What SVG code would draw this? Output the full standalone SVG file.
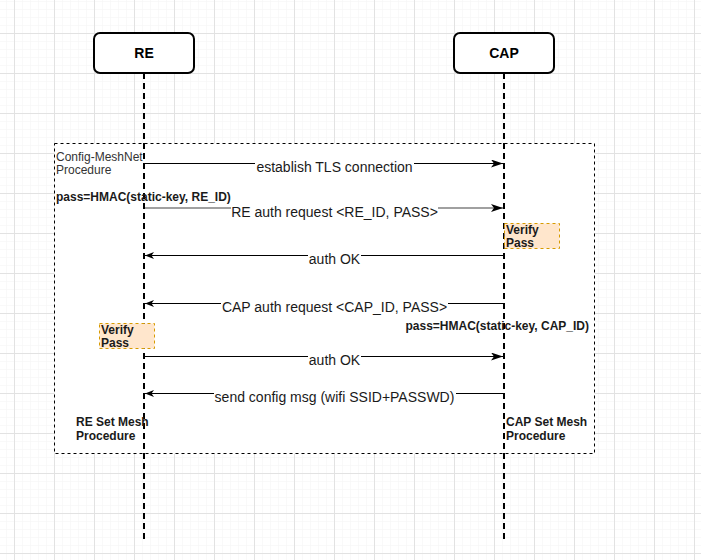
<svg xmlns="http://www.w3.org/2000/svg" width="701" height="560" viewBox="0 0 701 560">
<style>
.lbl{font-family:"Liberation Sans",Arial,sans-serif;font-size:14px;fill:#1a1a1a;text-anchor:middle}
.bold{font-family:"Liberation Sans",Arial,sans-serif;font-size:12px;font-weight:bold;fill:#1a1a1a}
.small{font-family:"Liberation Sans",Arial,sans-serif;font-size:12px;fill:#333}
.actor{fill:#fff;stroke:#000;stroke-width:2}
.actxt{font-family:"Liberation Sans",Arial,sans-serif;font-size:14px;font-weight:bold;fill:#000;text-anchor:middle}
.life{stroke:#000;stroke-width:2;stroke-dasharray:6 4;fill:none}
.msg{stroke:#000;stroke-width:1;fill:none}
.bg{fill:#fff}
.verify{fill:#ffe6cc;stroke:#d79b00;stroke-width:1;stroke-dasharray:3 3}
</style>
<defs>
<pattern id="minor" width="8" height="8" x="14" y="33" patternUnits="userSpaceOnUse">
<path d="M0 0V8M0 0H8" stroke="#f4f4f4" stroke-width="1" fill="none"/>
</pattern>
<pattern id="major" width="40" height="40" x="14" y="33" patternUnits="userSpaceOnUse">
<path d="M0.5 0V40M0 0.5H40" stroke="#e2e2e2" stroke-width="1" fill="none"/>
</pattern>
<marker id="ah" markerWidth="12" markerHeight="8" refX="12" refY="4" orient="auto" markerUnits="userSpaceOnUse">
<path d="M0 0L12 4L0 8L3 4Z" fill="#000"/>
</marker>
<marker id="ahs" markerWidth="9" markerHeight="7" refX="9" refY="3.5" orient="auto" markerUnits="userSpaceOnUse">
<path d="M0 0L9 3.5L0 7L2.5 3.5Z" fill="#000"/>
</marker>
</defs>
<rect width="701" height="560" fill="#fff"/>
<rect width="701" height="560" fill="url(#minor)"/>
<rect width="701" height="560" fill="url(#major)"/>

<g id="frame">
<rect x="54.5" y="143.5" width="540" height="310" fill="#fff" stroke="#000" stroke-width="1" stroke-dasharray="3 3"/>
<text class="small" x="56" y="161">Config-MeshNet</text>
<text class="small" x="56" y="174">Procedure</text>
</g>

<g id="lifelines">
<line class="life" x1="144" y1="73" x2="144" y2="543"/>
<line class="life" x1="504" y1="73" x2="504" y2="543"/>
</g>

<g id="RE">
<rect class="actor" x="94" y="33" width="100" height="40" rx="6"/>
<text class="actxt" x="144" y="58">RE</text>
</g>
<g id="CAP">
<rect class="actor" x="454" y="33" width="100" height="40" rx="6"/>
<text class="actxt" x="504" y="58">CAP</text>
</g>

<g id="connectors">
<line class="msg" x1="145" y1="163.5" x2="503" y2="163.5" marker-end="url(#ah)"/>
<line x1="145" y1="208" x2="503" y2="208" stroke="#808080" stroke-width="1.5" marker-end="url(#ah)"/>
<line class="msg" x1="503" y1="255.5" x2="145" y2="255.5" marker-end="url(#ahs)"/>
<line class="msg" x1="503" y1="303.5" x2="145" y2="303.5" marker-end="url(#ahs)"/>
<line class="msg" x1="145" y1="356.5" x2="503" y2="356.5" marker-end="url(#ah)"/>
<line class="msg" x1="503" y1="393.5" x2="145" y2="393.5" marker-end="url(#ahs)"/>

<rect class="bg" x="255" y="159" width="159" height="16"/>
<text class="lbl" x="334.5" y="172">establish TLS connection</text>
<rect class="bg" x="231" y="204" width="207" height="16"/>
<text class="lbl" x="334.5" y="217">RE auth request &lt;RE_ID, PASS&gt;</text>
<rect class="bg" x="308" y="251" width="53" height="16"/>
<text class="lbl" x="334.5" y="264">auth OK</text>
<rect class="bg" x="221" y="299" width="227" height="16"/>
<text class="lbl" x="334.5" y="312">CAP auth request &lt;CAP_ID, PASS&gt;</text>
<rect class="bg" x="308" y="352" width="53" height="16"/>
<text class="lbl" x="334.5" y="365">auth OK</text>
<rect class="bg" x="214" y="389" width="242" height="16"/>
<text class="lbl" x="334.5" y="402">send config msg (wifi SSID+PASSWD)</text>
</g>

<g id="re-hmac"><text class="bold" x="56" y="201">pass=HMAC(static-key, RE_ID)</text></g>
<g id="cap-hmac"><text class="bold" x="589" y="330" text-anchor="end">pass=HMAC(static-key, CAP_ID)</text></g>

<g id="verify-cap">
<rect class="verify" x="504.5" y="223.5" width="55" height="25"/>
<text class="bold" x="506" y="234">Verify</text>
<text class="bold" x="506" y="247">Pass</text>
</g>
<g id="verify-re">
<rect class="verify" x="99.5" y="323.5" width="55" height="25"/>
<text class="bold" x="101" y="334">Verify</text>
<text class="bold" x="101" y="347">Pass</text>
</g>

<g id="re-set"><text class="bold" x="76" y="426">RE Set Mesh</text><text class="bold" x="76" y="440">Procedure</text></g>
<g id="cap-set"><text class="bold" x="506" y="426">CAP Set Mesh</text><text class="bold" x="506" y="440">Procedure</text></g>
</svg>
